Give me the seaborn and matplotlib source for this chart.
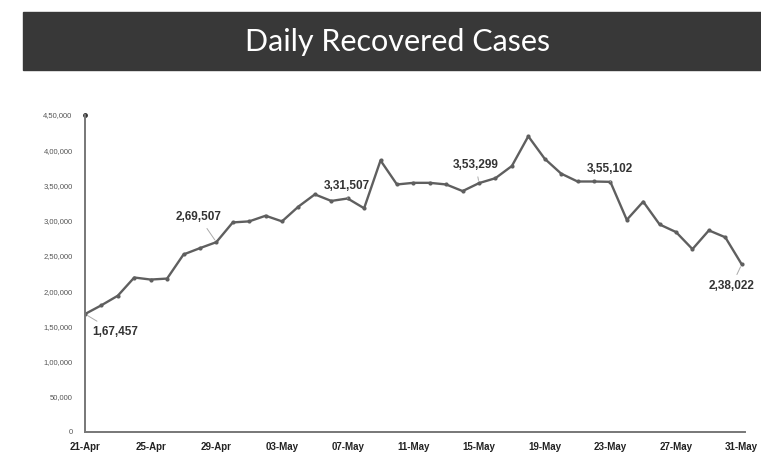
import pandas as pd
import numpy as np
import matplotlib.pyplot as plt
import seaborn as sns
from matplotlib.patches import Rectangle
from matplotlib.ticker import FuncFormatter

sns.set_style("white")
plt.rcParams['font.family'] = ['Liberation Sans', 'DejaVu Sans']

# daily recovered cases, 21-Apr to 31-May
dates = pd.date_range("2021-04-21", "2021-05-31", freq="D")
recovered = [167457, 179900, 193500, 219300, 216400, 217800, 252000, 261000,
             269507, 297500, 299000, 307000, 299000, 320000, 337300, 328000,
             331507, 317600, 385500, 351400, 353700, 353700, 351400, 342000,
             353299, 360300, 377600, 419800, 387900, 366800, 355600, 355600,
             355102, 301200, 327000, 294600, 283800, 259600, 286200, 276400,
             238022]
day_labels = [d.strftime("%d-%b") for d in dates]
y_ticks = list(range(0, 450001, 50000))

# labelled points: (day index, text offset in points)
callouts = {0: (5, -15), 8: (-29, 16), 16: (-17, 7), 24: (-19, 11), 32: (-17, 7), 40: (-24, -18)}

df = pd.DataFrame({"day": range(len(recovered)), "recovered": recovered})


def indian(v, pos=None):
    v = int(round(v))
    s = str(v)
    if len(s) <= 3:
        return s
    head, tail = s[:-3], s[-3:]
    parts = []
    while len(head) > 2:
        parts.insert(0, head[-2:])
        head = head[:-2]
    if head:
        parts.insert(0, head)
    return ",".join(parts) + "," + tail


fig = plt.figure(figsize=(7.61, 4.62), dpi=100)

# title banner
fig.patches.append(Rectangle((23 / 761, 1 - 70 / 462), 1, 58 / 462,
                             transform=fig.transFigure, color="#383838", zorder=0))
fig.text(398 / 761, 1 - 42 / 462, "Daily Recovered Cases", color="white",
         fontsize=22, ha="center", va="center", family=["Lato", "DejaVu Sans"])

ax = fig.add_axes([85 / 761, 1 - 432 / 462, 660 / 761, 317 / 462])
sns.lineplot(data=df, x="day", y="recovered", ax=ax, color="#5f5f5f",
             linewidth=1.7, marker="o", markersize=3, markeredgewidth=0)

ax.set_xlim(0, 40.2)
ax.set_ylim(0, 450000)
ax.set_xticks(range(0, len(day_labels), 4))
ax.set_xticklabels(day_labels[::4], fontsize=7, fontweight="bold", color="#222222")
ax.set_yticks(y_ticks)
ax.yaxis.set_major_formatter(FuncFormatter(indian))
ax.tick_params(axis="y", labelsize=5.5, colors="#555555", length=0, pad=9)
ax.tick_params(axis="x", length=3, direction="inout", color="#777777", pad=6)
ax.set_xlabel("")
ax.set_ylabel("")
for s in ["top", "right"]:
    ax.spines[s].set_visible(False)
for s in ["left", "bottom"]:
    ax.spines[s].set_color("#777777")
    ax.spines[s].set_linewidth(1.4)
ax.plot(0, 1, marker="o", markersize=2.5, color="#333333", transform=ax.transAxes, clip_on=False)

for i, off in callouts.items():
    ax.annotate(indian(recovered[i]), (i, recovered[i]), xytext=off, textcoords="offset points",
                fontsize=8.5, fontweight="bold", color="#333333", annotation_clip=False,
                arrowprops=dict(arrowstyle="-", color="#aaaaaa", lw=0.7, shrinkA=2, shrinkB=2))

fig.savefig("out.png", dpi=100)
